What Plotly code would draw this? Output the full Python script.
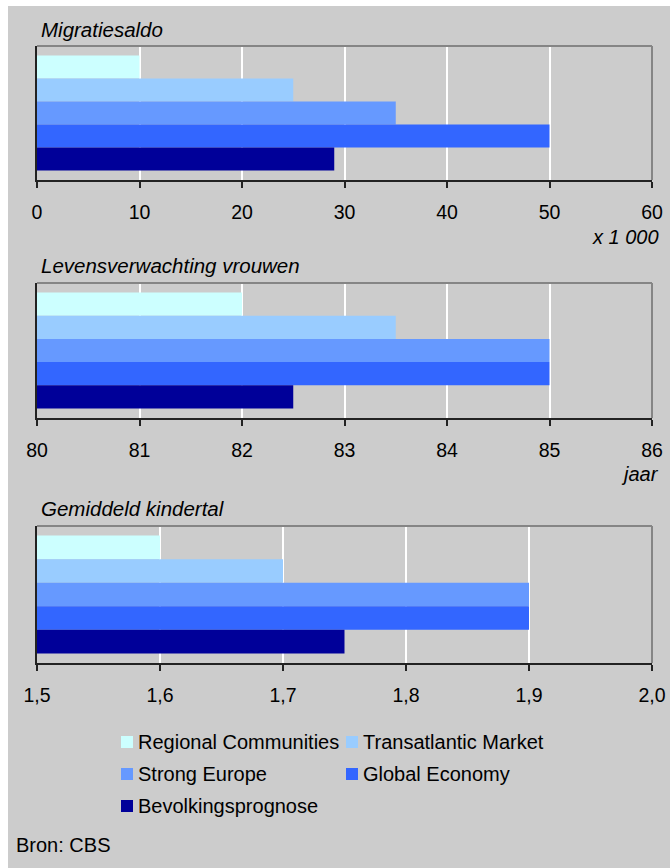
import plotly.graph_objects as go

# Scenario series (top to bottom in each panel)
series = ["Regional Communities", "Transatlantic Market", "Strong Europe",
          "Global Economy", "Bevolkingsprognose"]
colors = ["#CCFFFF", "#99CCFF", "#6699FF", "#3366FF", "#000099"]

# Panel titles, unit labels and values per scenario
panel_titles = ["Migratiesaldo", "Levensverwachting vrouwen", "Gemiddeld kindertal"]
panel_units = ["x 1 000", "jaar", ""]
migratiesaldo = [10, 25, 35, 50, 29]
levensverwachting_vrouwen = [82, 83.5, 85, 85, 82.5]
gemiddeld_kindertal = [1.6, 1.7, 1.9, 1.9, 1.75]
panel_values = [migratiesaldo, levensverwachting_vrouwen, gemiddeld_kindertal]

# Axis scales
x_ranges = [[0, 60], [80, 86], [1.5, 2.0]]
x_dticks = [10, 1, 0.1]
x_formats = ["d", "d", ".1f"]

W, H = 670, 868
FONT = "Liberation Sans, Arial, sans-serif"
FS_TICK = 19.5
FS_TEXT = 20
FS_TITLE = 20.5

def py(p):
    """Convert a pixel row (from top) to paper y."""
    return 1 - p / H

def px(p):
    return p / W

# Pixel geometry of the three panels: (frame top, axis line)
frames = [(46, 180), (283, 418), (526, 663)]
title_rows = [29, 266, 508]
unit_rows = [237, 474, None]

fig = go.Figure()
layout = dict(
    width=W, height=H,
    margin=dict(l=0, r=0, t=0, b=0, autoexpand=False),
    paper_bgcolor="white",
    plot_bgcolor="rgba(0,0,0,0)",
    separators=", ",
    barmode="group",
    bargap=0.14,
    bargroupgap=0,
    showlegend=False,
    font=dict(family=FONT, size=FS_TEXT, color="black"),
)

shapes = [
    # grey page background
    dict(type="rect", xref="paper", yref="paper", x0=px(8), x1=1, y0=0, y1=py(6),
         fillcolor="#CCCCCC", line=dict(width=0), layer="below"),
]
annotations = []

for i in range(3):
    n = "" if i == 0 else str(i + 1)
    xa, ya = "x" + n, "y" + n
    top, bottom = frames[i]
    for s, c, v in zip(series, colors, panel_values[i]):
        fig.add_trace(go.Bar(
            x=[v], y=[panel_titles[i]], orientation="h", name=s,
            marker=dict(color=c, line=dict(width=0)),
            xaxis=xa, yaxis=ya, showlegend=False,
        ))
    layout["xaxis" + n] = dict(
        domain=[px(37), px(652)], anchor=ya,
        range=x_ranges[i], dtick=x_dticks[i], tick0=x_ranges[i][0],
        tickformat=x_formats[i],
        showgrid=True, gridcolor="white", gridwidth=2,
        showline=True, linecolor="#222222", linewidth=2,
        ticks="outside", ticklen=6, tickwidth=2, tickcolor="#222222",
        ticklabelstandoff=8, automargin=False,
        tickfont=dict(family=FONT, size=FS_TICK, color="black"),
        zeroline=False, fixedrange=True,
    )
    layout["yaxis" + n] = dict(
        domain=[py(bottom), py(top)], anchor=xa,
        autorange="reversed", showticklabels=False, ticks="",
        showgrid=False, zeroline=False, automargin=False,
        showline=True, linecolor="#222222", linewidth=2, fixedrange=True,
    )
    # grey frame on top and right side
    shapes.append(dict(type="line", xref=xa + " domain", yref=ya + " domain",
                       x0=0, x1=1, y0=1, y1=1, line=dict(color="#858585", width=2)))
    shapes.append(dict(type="line", xref=xa + " domain", yref=ya + " domain",
                       x0=1, x1=1, y0=0, y1=1, line=dict(color="#858585", width=2)))
    annotations.append(dict(
        text="<i>" + panel_titles[i] + "</i>", xref="paper", yref="paper",
        x=px(39), y=py(title_rows[i]), xanchor="left", yanchor="middle",
        showarrow=False, font=dict(family=FONT, size=FS_TITLE, color="black"),
    ))
    if panel_units[i]:
        annotations.append(dict(
            text="<i>" + panel_units[i] + "</i>", xref="paper", yref="paper",
            x=px(661), y=py(unit_rows[i]), xanchor="right", yanchor="middle",
            showarrow=False, font=dict(family=FONT, size=FS_TEXT, color="black"),
        ))

# Legend: two columns, three rows
leg_cols = [121, 346]
leg_rows = [742, 774, 806]
for k, (s, c) in enumerate(zip(series, colors)):
    cx = leg_cols[k % 2]
    cy = leg_rows[k // 2]
    shapes.append(dict(type="rect", xref="paper", yref="paper",
                       x0=px(cx), x1=px(cx + 12), y0=py(cy + 6), y1=py(cy - 6),
                       fillcolor=c, line=dict(width=0)))
    annotations.append(dict(
        text=s, xref="paper", yref="paper", x=px(cx + 15), y=py(cy),
        xanchor="left", yanchor="middle", showarrow=False,
        font=dict(family=FONT, size=FS_TEXT, color="black"),
    ))

annotations.append(dict(
    text="Bron: CBS", xref="paper", yref="paper", x=px(14), y=py(845),
    xanchor="left", yanchor="middle", showarrow=False,
    font=dict(family=FONT, size=FS_TEXT, color="black"),
))

layout["shapes"] = shapes
layout["annotations"] = annotations
fig.update_layout(**layout)
fig.write_html("out.html", config={"displayModeBar": False})
